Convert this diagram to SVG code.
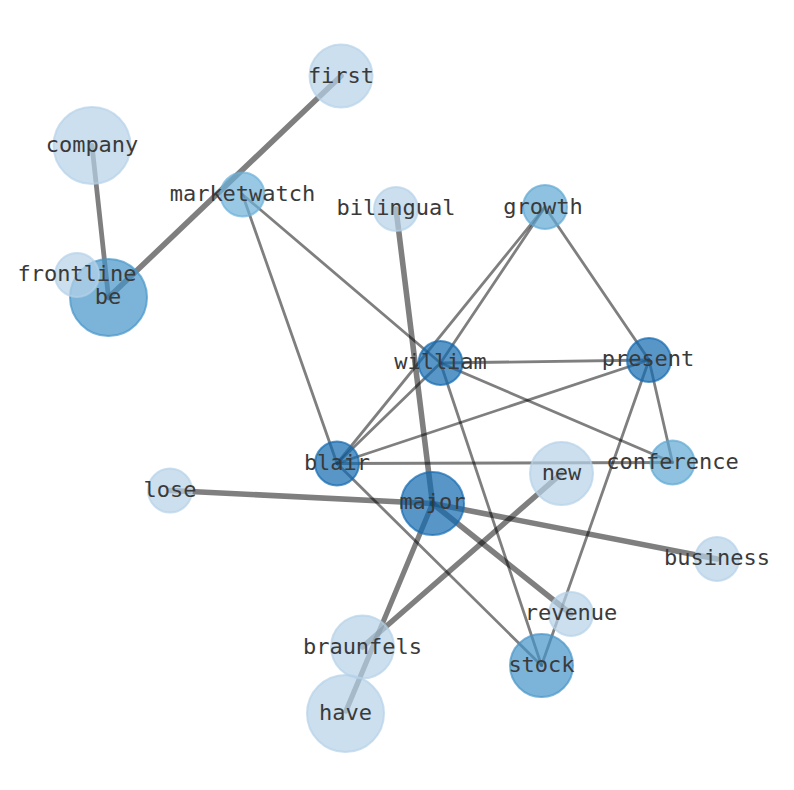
<svg xmlns="http://www.w3.org/2000/svg" width="794" height="790" viewBox="0 0 794 790">
<style>
.e{stroke:#000;stroke-opacity:0.5;stroke-linecap:round;fill:none}
.t{stroke-width:2.8}
.k{stroke-width:5.6}
circle{stroke-width:2;fill-opacity:0.7;stroke-opacity:0.7}
.l{fill:#b5d1e8;stroke:#b5d1e8}
.m{fill:#4594c9;stroke:#4594c9}
.s{fill:#5fa8d3;stroke:#5fa8d3}
.d{fill:#1369b0;stroke:#1369b0}
text{font-family:"DejaVu Sans Mono","Liberation Mono",monospace;font-size:22px;fill:#3a3a3a;text-anchor:middle}
</style>
<rect width="794" height="790" fill="#fff"/>
<g id="edges">
<line class="e k" x1="341" y1="76" x2="108.5" y2="297.5"/>
<line class="e k" style="stroke-width:4.8" x1="92" y1="145.5" x2="108.5" y2="297.5"/>
<line class="e t" x1="242.5" y1="194.5" x2="440.5" y2="363"/>
<line class="e t" x1="242.5" y1="194.5" x2="337" y2="463.5"/>
<line class="e k" x1="396" y1="209" x2="432.5" y2="503.5"/>
<line class="e t" x1="545" y1="207" x2="440.5" y2="363"/>
<line class="e t" x1="545" y1="207" x2="337" y2="463.5"/>
<line class="e t" x1="545" y1="207" x2="649" y2="360"/>
<line class="e t" x1="440.5" y1="363" x2="649" y2="360"/>
<line class="e t" x1="440.5" y1="363" x2="337" y2="463.5"/>
<line class="e t" x1="440.5" y1="363" x2="672.5" y2="462.5"/>
<line class="e t" x1="440.5" y1="363" x2="541.5" y2="665.5"/>
<line class="e t" x1="649" y1="360" x2="337" y2="463.5"/>
<line class="e t" x1="649" y1="360" x2="672.5" y2="462.5"/>
<line class="e t" x1="649" y1="360" x2="541.5" y2="665.5"/>
<line class="e t" x1="337" y1="463.5" x2="672.5" y2="462.5"/>
<line class="e t" x1="337" y1="463.5" x2="541.5" y2="665.5"/>
<line class="e k" x1="170" y1="490.5" x2="432.5" y2="503.5"/>
<line class="e k" x1="432.5" y1="503.5" x2="717" y2="559"/>
<line class="e k" x1="432.5" y1="503.5" x2="571" y2="614"/>
<line class="e k" style="stroke-width:5.2" x1="432.5" y1="503.5" x2="346" y2="711"/>
<line class="e k" x1="561.5" y1="473.5" x2="362.5" y2="647"/>
</g>
<g id="node-first"><circle class="l" cx="341" cy="76" r="31.5"/><text x="341" y="83">first</text></g>
<g id="node-company"><circle class="l" cx="92" cy="145.5" r="38.5"/><text x="92" y="152">company</text></g>
<g id="node-marketwatch"><circle class="s" style="fill:#6cb0d8;stroke:#6cb0d8" cx="242.5" cy="194.5" r="22"/><text x="242.5" y="201">marketwatch</text></g>
<g id="node-bilingual"><circle class="l" cx="396" cy="209" r="22"/><text x="396" y="215">bilingual</text></g>
<g id="node-growth"><circle class="s" cx="545" cy="207" r="22"/><text x="543" y="214">growth</text></g>
<g id="node-be"><circle class="m" cx="108.5" cy="297.5" r="38.5"/><text x="108" y="304">be</text></g>
<g id="node-frontline"><circle class="l" cx="77" cy="275" r="22"/><text x="77" y="281">frontline</text></g>
<g id="node-william"><circle class="d" cx="440.5" cy="363" r="22"/><text x="440.5" y="369">william</text></g>
<g id="node-present"><circle class="d" cx="649" cy="360" r="22"/><text x="648" y="366">present</text></g>
<g id="node-blair"><circle class="d" cx="337" cy="463.5" r="22"/><text x="337" y="470">blair</text></g>
<g id="node-conference"><circle class="s" cx="672.5" cy="462.5" r="22"/><text x="672.5" y="469">conference</text></g>
<g id="node-new"><circle class="l" cx="561.5" cy="473.5" r="31.5"/><text x="561.5" y="480">new</text></g>
<g id="node-lose"><circle class="l" cx="170" cy="490.5" r="22"/><text x="170" y="497">lose</text></g>
<g id="node-major"><circle class="d" cx="432.5" cy="503.5" r="31.5"/><text x="432.5" y="509">major</text></g>
<g id="node-business"><circle class="l" cx="717" cy="559" r="22"/><text x="717" y="565">business</text></g>
<g id="node-revenue"><circle class="l" cx="571" cy="614" r="22"/><text x="571" y="620">revenue</text></g>
<g id="node-braunfels"><circle class="l" cx="362.5" cy="647" r="31.5"/><text x="362.5" y="654">braunfels</text></g>
<g id="node-stock"><circle class="m" cx="541.5" cy="665.5" r="31.5"/><text x="541.5" y="672">stock</text></g>
<g id="node-have"><circle class="l" cx="345.5" cy="713.5" r="38.5"/><text x="345.5" y="720">have</text></g>
</svg>
